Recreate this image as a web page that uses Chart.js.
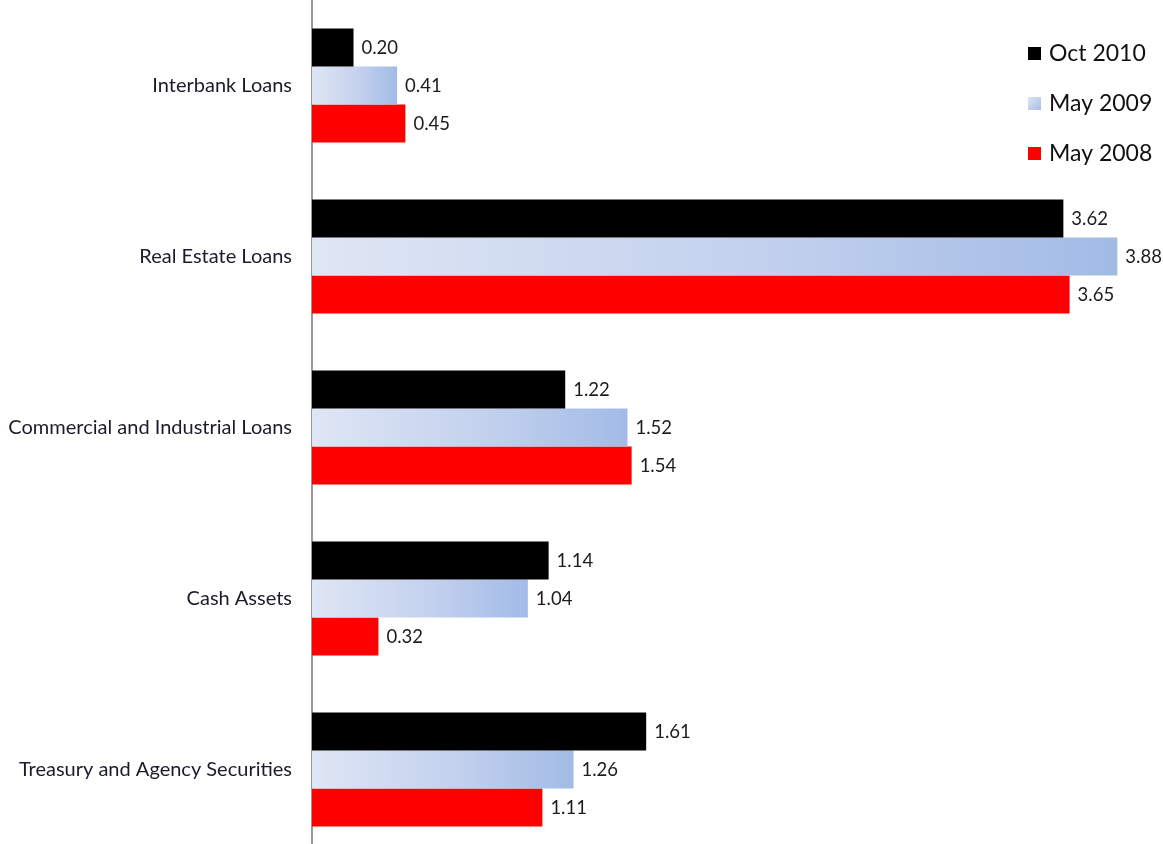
<!DOCTYPE html>
<html>
<head>
<meta charset="utf-8">
<script src="https://cdn.jsdelivr.net/npm/chart.js@4.4.1/dist/chart.umd.min.js"></script>
<style>
  html, body { margin: 0; padding: 0; background: #fff; overflow: hidden; }
  #wrap { width: 1163px; height: 855px; }
</style>
</head>
<body>
<div id="wrap"><canvas id="myChart" width="1163" height="855"></canvas></div>
<script>
// Bank asset categories and the three snapshot series
const categories = [
  'Interbank Loans',
  'Real Estate Loans',
  'Commercial and Industrial Loans',
  'Cash Assets',
  'Treasury and Agency Securities'
];
const seriesNames = ['Oct 2010', 'May 2009', 'May 2008'];
const oct2010 = [0.20, 3.62, 1.22, 1.14, 1.61];
const may2009 = [0.41, 3.88, 1.52, 1.04, 1.26];
const may2008 = [0.45, 3.65, 1.54, 0.32, 1.11];

const fontFamily = 'Lato, "Open Sans", sans-serif';

// Pale-to-blue fill running along each bar
function blueFill(context) {
  const chart = context.chart;
  if (!chart.chartArea || context.type !== 'data') return '#bccbe9';
  const x = chart.scales.x;
  const value = context.raw;
  const x0 = x.getPixelForValue(0);
  const x1 = x.getPixelForValue(value);
  const g = chart.ctx.createLinearGradient(x0, 0, x1, 0);
  g.addColorStop(0, '#dfe6f4');
  g.addColorStop(0.55, '#c3d1ee');
  g.addColorStop(1, '#a2bbe6');
  return g;
}

// Value text to the right of every bar
const valueLabels = {
  id: 'valueLabels',
  afterDatasetsDraw(chart) {
    const ctx = chart.ctx;
    ctx.save();
    ctx.font = '18.5px ' + fontFamily;
    ctx.fillStyle = '#1c1c1c';
    ctx.textAlign = 'left';
    ctx.textBaseline = 'middle';
    chart.data.datasets.forEach((ds, i) => {
      chart.getDatasetMeta(i).data.forEach((bar, j) => {
        ctx.fillText(ds.data[j].toFixed(2), bar.x + 8, bar.y + 1);
      });
    });
    ctx.restore();
  }
};

// Legend drawn inside the plot, top right
const cornerLegend = {
  id: 'cornerLegend',
  afterDraw(chart) {
    const ctx = chart.ctx;
    ctx.save();
    ctx.font = '23px ' + fontFamily;
    ctx.textBaseline = 'middle';
    const swatches = ['#000000', null, '#ff0000'];
    chart.data.datasets.forEach((ds, i) => {
      const y = 54 + i * 50;
      if (swatches[i]) {
        ctx.fillStyle = swatches[i];
      } else {
        const g = ctx.createLinearGradient(1028, y - 7, 1041, y + 7);
        g.addColorStop(0, '#dfe6f4');
        g.addColorStop(1, '#a2bbe6');
        ctx.fillStyle = g;
      }
      ctx.fillRect(1028, y - 7, 13, 13);
      ctx.fillStyle = '#111';
      ctx.fillText(ds.label, 1049, y);
    });
    ctx.restore();
  }
};

const ctx = document.getElementById('myChart');

const myChart = new Chart(ctx, {
  type: 'bar',
  data: {
    labels: categories,
    datasets: [{
      label: seriesNames[0],
      data: oct2010,
      backgroundColor: '#000000'
    }, {
      label: seriesNames[1],
      data: may2009,
      backgroundColor: blueFill
    }, {
      label: seriesNames[2],
      data: may2008,
      backgroundColor: '#ff0000'
    }]
  },
  options: {
    indexAxis: 'y',
    responsive: false,
    animation: false,
    categoryPercentage: 0.667,
    barPercentage: 1.0,
    layout: { padding: 0 },
    plugins: {
      legend: { display: false },
      tooltip: { enabled: false }
    },
    scales: {
      x: {
        display: false,
        min: 0,
        max: 4.1
      },
      y: {
        afterFit(scale) {
          scale.width = 312;
          scale.paddingTop = 0;
          scale.paddingBottom = 0;
        },
        grid: { display: false },
        border: { display: true, color: '#9a9a9a', width: 2 },
        ticks: {
          padding: 12,
          color: '#1c1c28',
          font: { family: fontFamily, size: 20 }
        }
      }
    }
  },
  plugins: [valueLabels, cornerLegend]
});
</script>
</body>
</html>
